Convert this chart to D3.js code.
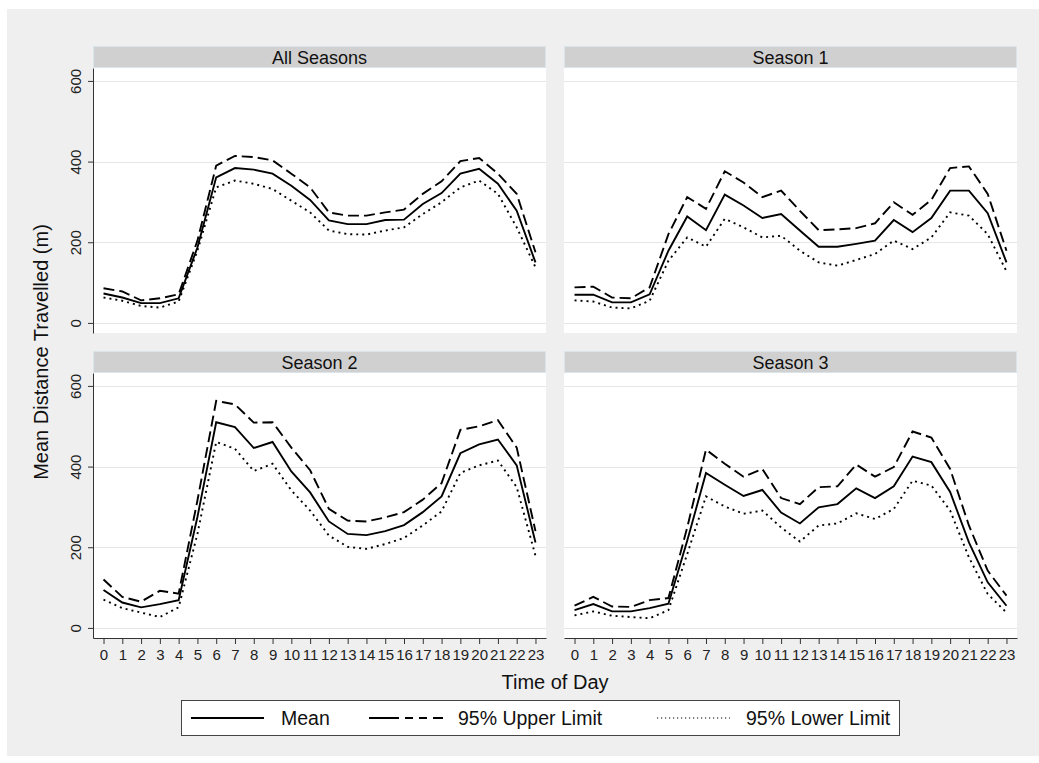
<!DOCTYPE html>
<html>
<head>
<meta charset="utf-8">
<script src="https://cdn.jsdelivr.net/npm/d3@7"></script>
<style>
  body { margin: 0; background: #fff; }
  svg { display: block; font-family: "Liberation Sans", Arial, sans-serif; }
</style>
</head>
<body>
<script>
// hours on the x axis
const hours = d3.range(0, 24);
const yTicks = [0, 200, 400, 600];
const panelTitles = ["All Seasons", "Season 1", "Season 2", "Season 3"];
const seriesNames = ["Mean", "95% Upper Limit", "95% Lower Limit"];

// values
const allMean  = [73, 63, 49, 49, 61, 187, 361, 384, 380, 370, 340, 305, 254, 245, 245, 255, 256, 295, 322, 370, 382, 345, 278, 150];
const allUpper = [86, 78, 56, 61, 71, 204, 390, 414, 411, 403, 370, 336, 274, 266, 266, 274, 281, 320, 351, 401, 409, 370, 320, 175];
const allLower = [63, 55, 42, 38, 53, 179, 336, 353, 345, 332, 303, 274, 229, 220, 219, 229, 237, 270, 299, 336, 353, 320, 237, 138];

const s1Mean  = [70, 70, 51, 51, 71, 179, 264, 230, 318, 291, 260, 270, 229, 189, 189, 196, 204, 255, 225, 260, 328, 328, 272, 150];
const s1Upper = [88, 90, 63, 61, 88, 220, 312, 283, 376, 348, 312, 328, 278, 230, 232, 235, 247, 299, 268, 305, 384, 388, 320, 179];
const s1Lower = [56, 53, 38, 36, 55, 154, 212, 189, 258, 237, 212, 216, 179, 150, 142, 156, 171, 204, 183, 212, 274, 266, 220, 128];

const s2Mean  = [94, 63, 51, 59, 69, 275, 510, 498, 446, 461, 388, 336, 264, 233, 230, 240, 255, 287, 326, 433, 455, 467, 403, 212];
const s2Upper = [120, 77, 65, 92, 85, 316, 563, 554, 509, 510, 447, 391, 295, 266, 264, 274, 287, 318, 359, 491, 500, 515, 447, 240];
const s2Lower = [70, 49, 38, 27, 51, 233, 461, 444, 389, 407, 341, 291, 229, 201, 196, 208, 223, 254, 289, 384, 403, 415, 349, 179];

const s3Mean  = [44, 59, 41, 41, 49, 60, 216, 384, 355, 327, 342, 286, 259, 299, 307, 346, 322, 351, 425, 411, 337, 212, 113, 55];
const s3Upper = [55, 77, 53, 52, 69, 74, 249, 442, 407, 375, 394, 322, 307, 349, 351, 405, 375, 399, 487, 472, 394, 254, 142, 80];
const s3Lower = [31, 41, 30, 27, 24, 44, 183, 326, 301, 283, 291, 249, 214, 254, 259, 284, 270, 295, 365, 353, 291, 175, 84, 38];

const panelData = [
  [allMean, allUpper, allLower],
  [s1Mean, s1Upper, s1Lower],
  [s2Mean, s2Upper, s2Lower],
  [s3Mean, s3Upper, s3Lower],
];

const W = 1039, H = 763;
const colX = [93, 564];
const rowY = [46, 351];   // top of the header strip
const stripH = 22;
const plotW = 453, plotH = 265;

// line styles for mean, upper, lower
const dashes = [null, "11,5", "2,4"];

const svg = d3.select("body").append("svg")
  .attr("width", W)
  .attr("height", H);

svg.append("rect")
  .attr("x", 7).attr("y", 9)
  .attr("width", W - 7).attr("height", 747)
  .attr("fill", "#efefef");

const x = d3.scaleLinear().domain([-0.56, 23.56]).range([0, plotW]);
const y = d3.scaleLinear().domain([-25, 632]).range([plotH, 0]);

const line = d3.line()
  .x((d, i) => x(hours[i]))
  .y(d => y(d));

panelTitles.forEach((title, p) => {
  const col = p % 2, row = Math.floor(p / 2);
  const top = rowY[row] + stripH;
  const g = svg.append("g").attr("transform", `translate(${colX[col]},${top})`);

  // header strip
  svg.append("rect")
    .attr("x", colX[col] + 0.5).attr("y", rowY[row] + 0.5)
    .attr("width", plotW - 1).attr("height", stripH - 1)
    .attr("fill", "#d0d0d0")
    .attr("stroke", "#d9e5ea");
  svg.append("text")
    .attr("x", colX[col] + plotW / 2)
    .attr("y", rowY[row] + 17.5)
    .attr("text-anchor", "middle")
    .attr("font-size", 18)
    .attr("fill", "#111")
    .text(title);

  // plot region
  g.append("rect")
    .attr("width", plotW).attr("height", plotH)
    .attr("fill", "#fff");

  g.selectAll(".grid")
    .data(yTicks)
    .join("line")
    .attr("x1", 0).attr("x2", plotW)
    .attr("y1", d => Math.round(y(d)) + 0.5)
    .attr("y2", d => Math.round(y(d)) + 0.5)
    .attr("stroke", "#e6e6e6")
    .attr("stroke-width", 1.2);

  panelData[p].forEach((vals, s) => {
    g.append("path")
      .attr("d", line(vals))
      .attr("fill", "none")
      .attr("stroke", "#000")
      .attr("stroke-width", 1.9)
      .attr("stroke-dasharray", dashes[s]);
  });

  if (col === 0) {
    const yaxis = g.append("g")
      .call(d3.axisLeft(y).tickValues(yTicks).tickSize(5).tickSizeOuter(0));
    yaxis.select(".domain").attr("stroke", "#333");
    yaxis.selectAll(".tick line").attr("stroke", "#333");
    yaxis.selectAll(".tick text")
      .attr("x", null).attr("dy", null)
      .attr("transform", "translate(-12,0) rotate(-90)")
      .attr("text-anchor", "middle")
      .attr("font-size", 15)
      .attr("font-family", "Liberation Sans, Arial, sans-serif")
      .attr("fill", "#222");
  }

  if (row === 1) {
    const xaxis = g.append("g")
      .attr("transform", `translate(0,${plotH})`)
      .call(d3.axisBottom(x).tickValues(hours).tickSize(6).tickSizeOuter(0).tickPadding(5));
    xaxis.select(".domain").attr("stroke", "#333");
    xaxis.selectAll(".tick line").attr("stroke", "#333");
    xaxis.selectAll(".tick text")
      .attr("font-size", 15)
      .attr("font-family", "Liberation Sans, Arial, sans-serif")
      .attr("fill", "#222");
  }
});

// axis titles
svg.append("text")
  .attr("transform", "translate(48,352) rotate(-90)")
  .attr("text-anchor", "middle")
  .attr("font-size", 20)
  .attr("fill", "#111")
  .text("Mean Distance Travelled (m)");

svg.append("text")
  .attr("x", 555).attr("y", 689)
  .attr("text-anchor", "middle")
  .attr("font-size", 20)
  .attr("fill", "#111")
  .text("Time of Day");

// legend
const legend = svg.append("g");
legend.append("rect")
  .attr("x", 181.5).attr("y", 700.5)
  .attr("width", 718).attr("height", 35)
  .attr("fill", "#fff")
  .attr("stroke", "#444");

const legendItems = [
  { x1: 191, x2: 264, tx: 281, dash: null },
  { x1: 369, x2: 443, tx: 458, dash: "30,6,8,6,8,6,10" },
  { x1: 657, x2: 730, tx: 746, dash: "1.2,2.8" },
];
legendItems.forEach((d, i) => {
  legend.append("line")
    .attr("x1", d.x1).attr("x2", d.x2)
    .attr("y1", 718).attr("y2", 718)
    .attr("stroke", "#000")
    .attr("stroke-width", i === 2 ? 1.2 : 2)
    .attr("stroke-dasharray", d.dash);
  legend.append("text")
    .attr("x", d.tx).attr("y", 725)
    .attr("font-size", 19.5)
    .attr("fill", "#111")
    .text(seriesNames[i]);
});
</script>
</body>
</html>
